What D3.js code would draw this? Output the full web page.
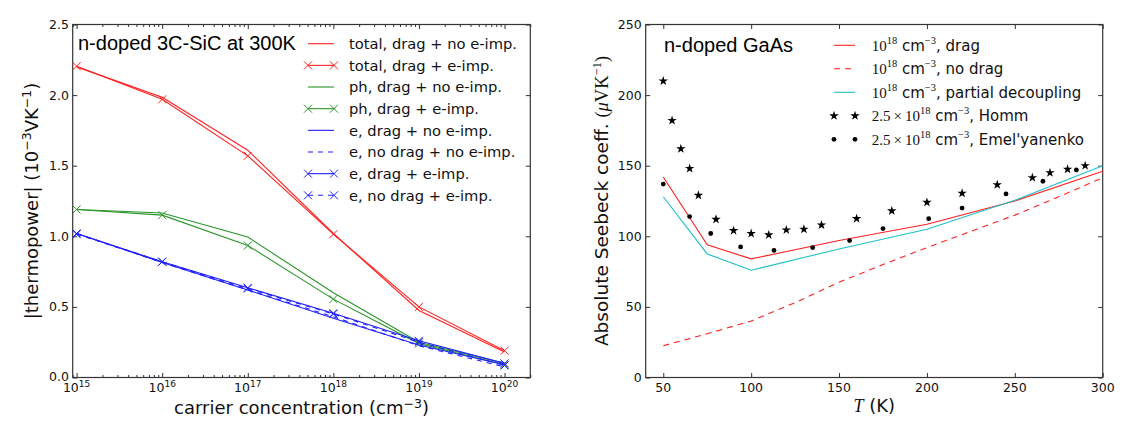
<!DOCTYPE html>
<html><head><meta charset="utf-8">
<script src="https://cdn.jsdelivr.net/npm/d3@7"></script>
<style>body{margin:0;background:#fff} svg{display:block}</style>
</head><body>
<svg id="c" width="1131" height="425"></svg>
<script>
// ---------- data: left panel (n-doped 3C-SiC at 300K) ----------
const carrierConc = [1e15, 1e16, 1e17, 1e18, 1e19, 1e20];
const totalDragNoImp = [2.20, 1.985, 1.61, 1.02, 0.475, 0.18];
const totalDragImp = [2.205, 1.97, 1.57, 1.015, 0.50, 0.19];
const phDragNoImp = [1.19, 1.165, 0.995, 0.60, 0.25, 0.10];
const phDragImp = [1.19, 1.15, 0.935, 0.555, 0.24, 0.09];
const eDragNoImp = [1.02, 0.815, 0.62, 0.42, 0.23, 0.09];
const eNoDragNoImp = [1.02, 0.815, 0.62, 0.43, 0.225, 0.075];
const eDragImp = [1.02, 0.82, 0.635, 0.455, 0.26, 0.10];
const eNoDragImp = [1.015, 0.82, 0.63, 0.45, 0.25, 0.085];
const leftLegendLabels = ["total, drag + no e-imp.", "total, drag + e-imp.", "ph, drag + no e-imp.", "ph, drag + e-imp.",
  "e, drag + no e-imp.", "e, no drag + no e-imp.", "e, drag + e-imp.", "e, no drag + e-imp."];
const leftYTicks = [0, 0.5, 1.0, 1.5, 2.0, 2.5];
const leftXTickExps = [15, 16, 17, 18, 19, 20];

// ---------- data: right panel (n-doped GaAs) ----------
const tempModel = [50, 75, 100, 150, 200, 250, 300];
const seebeckDrag = [142, 94, 84, 97, 108.5, 125, 146];
const seebeckPartial = [128, 87.5, 76, 91, 105, 125.5, 150];
const tempNoDrag = [50, 75, 100, 125, 150, 175, 200, 225, 250, 275, 300];
const seebeckNoDrag = [22.5, 31, 40, 53, 67.5, 80, 92, 103.5, 115, 128, 141.5];
const tempHomm = [50, 55, 60, 65, 70, 80, 90, 100, 110, 120, 130, 140, 160, 180, 200, 220, 240, 260, 270, 280, 290];
const seebeckHomm = [210, 182, 162, 148, 129, 112, 104, 102, 101, 104.5, 105, 108, 112.5, 118, 124, 130.5, 136.5, 141.5, 145, 147.5, 150];
const tempEmel = [50, 65, 77, 94, 113, 135, 156, 175, 201, 220, 245, 266, 285];
const seebeckEmel = [137, 114, 102, 92.5, 90, 92, 97, 105.5, 112.5, 120, 130, 139, 147];
const rightXTicks = [50, 100, 150, 200, 250, 300];
const rightYTicks = [0, 50, 100, 150, 200, 250];

// ---------- drawing ----------
const svg = d3.select("#c");
svg.append("rect").attr("width", 1131).attr("height", 425).attr("fill", "#fff");
const SANS = "'DejaVu Sans', sans-serif";
const SERIF = "'Liberation Serif', 'DejaVu Serif', serif";
const TITLE = "'Liberation Sans', Arial, sans-serif";
const MAJ = 4.5, MIN = 2.5, AX = "#333", TXT = "#111";
const RED = "#ff2020", GREEN = "#2a962a", BLUE = "#1f1fff", CYAN = "#20c0c8";

function drawFrame(x, y, xMajor, yMajor, xMinor) {
  const [x0, x1] = x.range(), [y0, y1] = y.range();
  const g = svg.append("g");
  const clean = s => { s.select(".domain").remove(); s.selectAll(".tick line").attr("stroke", AX); };
  g.append("g").attr("transform", `translate(0,${y0})`).call(d3.axisBottom(x).tickValues(xMajor).tickSize(-MAJ).tickSizeOuter(0).tickFormat("")).call(clean);
  g.append("g").attr("transform", `translate(0,${y1})`).call(d3.axisTop(x).tickValues(xMajor).tickSize(-MAJ).tickSizeOuter(0).tickFormat("")).call(clean);
  g.append("g").attr("transform", `translate(${x0},0)`).call(d3.axisLeft(y).tickValues(yMajor).tickSize(-MAJ).tickSizeOuter(0).tickFormat("")).call(clean);
  g.append("g").attr("transform", `translate(${x1},0)`).call(d3.axisRight(y).tickValues(yMajor).tickSize(-MAJ).tickSizeOuter(0).tickFormat("")).call(clean);
  if (xMinor) {
    g.append("g").attr("transform", `translate(0,${y0})`).call(d3.axisBottom(x).tickValues(xMinor).tickSize(-MIN).tickSizeOuter(0).tickFormat("")).call(clean);
    g.append("g").attr("transform", `translate(0,${y1})`).call(d3.axisTop(x).tickValues(xMinor).tickSize(-MIN).tickSizeOuter(0).tickFormat("")).call(clean);
  }
  g.append("rect").attr("x", x0).attr("y", y1).attr("width", x1 - x0).attr("height", y0 - y1)
    .attr("fill", "none").attr("stroke", AX).attr("stroke-width", 1.2);
  return g;
}

function addText(parts, attrs) {
  const t = svg.append("text");
  Object.entries(attrs).forEach(([k, v]) => t.attr(k, v));
  parts.forEach(p => {
    const s = t.append("tspan").text(p.t);
    if (p.f) s.attr("font-family", p.f);
    if (p.sup) s.attr("font-size", p.sup).attr("baseline-shift", p.shift || "super");
    if (p.it) s.attr("font-style", "italic");
  });
  return t;
}

function xMarker(g, cx, cy, color) {
  g.append("path").attr("d", `M${cx - 4},${cy - 4}L${cx + 4},${cy + 4}M${cx - 4},${cy + 4}L${cx + 4},${cy - 4}`)
    .attr("stroke", color).attr("stroke-width", 1).attr("fill", "none");
}

// ===== Left panel =====
const xL = d3.scaleLog().domain([9e14, 2e20]).range([72.7, 530.3]);
const yL = d3.scaleLinear().domain([0, 2.5]).range([377.5, 24.5]);
const minorL = [];
for (let e = 14; e <= 20; e++) for (let m = 2; m <= 9; m++) { const v = m * Math.pow(10, e); if (v >= 9e14 && v <= 2e20) minorL.push(v); }
drawFrame(xL, yL, leftXTickExps.map(e => Math.pow(10, e)), leftYTicks, minorL);

leftYTicks.forEach(v => svg.append("text").attr("x", 69).attr("y", yL(v) + (v === 0 ? 3 : 4.5))
  .attr("text-anchor", "end").attr("font-family", SANS).attr("font-size", 12.5).attr("fill", TXT).text(d3.format(".1f")(v)));
leftXTickExps.forEach(e => addText([{ t: "10" }, { t: String(e), sup: 9, shift: "5" }],
  { x: xL(Math.pow(10, e)), y: 392, "text-anchor": "middle", "font-family": SANS, "font-size": 12.5, fill: TXT }));

const leftSeries = [
  { v: totalDragNoImp, c: RED, m: false, d: null },
  { v: totalDragImp, c: RED, m: true, d: null },
  { v: phDragNoImp, c: GREEN, m: false, d: null },
  { v: phDragImp, c: GREEN, m: true, d: null },
  { v: eDragNoImp, c: BLUE, m: false, d: null },
  { v: eNoDragNoImp, c: BLUE, m: false, d: "5,5" },
  { v: eDragImp, c: BLUE, m: true, d: null },
  { v: eNoDragImp, c: BLUE, m: true, d: "5,5" },
];
const lineL = d3.line().x(d => xL(d[0])).y(d => yL(d[1]));
const gL = svg.append("g");
leftSeries.forEach(s => {
  const pts = d3.zip(carrierConc, s.v);
  gL.append("path").attr("d", lineL(pts)).attr("fill", "none").attr("stroke", s.c).attr("stroke-width", 1.1)
    .attr("stroke-dasharray", s.d);
  if (s.m) pts.forEach(p => xMarker(gL, xL(p[0]), yL(p[1]), s.c));
});

addText([{ t: "n-doped 3C-SiC at 300K" }], { x: 78, y: 50, "font-family": TITLE, "font-size": 20, fill: "#000" });
leftSeries.forEach((s, i) => {
  const ry = 43.7 + i * 21.66;
  gL.append("line").attr("x1", 308).attr("x2", 334).attr("y1", ry).attr("y2", ry).attr("stroke", s.c)
    .attr("stroke-width", 1.1).attr("stroke-dasharray", s.d);
  if (s.m) { xMarker(gL, 308, ry, s.c); xMarker(gL, 334, ry, s.c); }
  addText([{ t: leftLegendLabels[i] }], { x: 349, y: ry + 5.2, "font-family": SANS, "font-size": 14.7, fill: TXT });
});

addText([{ t: "carrier concentration (cm" }, { t: "\u22123", sup: 12.5, shift: "6" }, { t: ")" }],
  { x: (72.7 + 530.3) / 2, y: 413.5, "text-anchor": "middle", "font-family": SANS, "font-size": 18, fill: TXT });
addText([{ t: "|thermopower| (10" }, { t: "\u22123", sup: 12.5, shift: "7" }, { t: "VK" }, { t: "\u22121", sup: 12.5, shift: "7" }, { t: ")" }],
  { x: 0, y: 0, transform: `translate(38,201) rotate(-90)`, "text-anchor": "middle", "font-family": SANS, "font-size": 18, fill: TXT });

// ===== Right panel =====
const xR = d3.scaleLinear().domain([40, 300]).range([645.7, 1102.7]);
const yR = d3.scaleLinear().domain([0, 250]).range([377.5, 24.5]);
drawFrame(xR, yR, rightXTicks, rightYTicks, null);
rightYTicks.forEach(v => svg.append("text").attr("x", 641.7).attr("y", yR(v) + 4.5).attr("text-anchor", "end")
  .attr("font-family", SANS).attr("font-size", 12.5).attr("fill", TXT).text(v));
rightXTicks.forEach(v => svg.append("text").attr("x", xR(v)).attr("y", 392).attr("text-anchor", "middle")
  .attr("font-family", SANS).attr("font-size", 12.5).attr("fill", TXT).text(v));

const lineR = d3.line().x(d => xR(d[0])).y(d => yR(d[1]));
const gR = svg.append("g");
gR.append("path").attr("d", lineR(d3.zip(tempModel, seebeckDrag))).attr("fill", "none").attr("stroke", RED).attr("stroke-width", 1.1);
gR.append("path").attr("d", lineR(d3.zip(tempNoDrag, seebeckNoDrag))).attr("fill", "none").attr("stroke", RED).attr("stroke-width", 1.1).attr("stroke-dasharray", "6,5");
gR.append("path").attr("d", lineR(d3.zip(tempModel, seebeckPartial))).attr("fill", "none").attr("stroke", CYAN).attr("stroke-width", 1.1);
const star = d3.symbol(d3.symbolStar, 28);
d3.zip(tempHomm, seebeckHomm).forEach(p => gR.append("path").attr("d", star()).attr("transform", `translate(${xR(p[0])},${yR(p[1])})`).attr("fill", "#000"));
d3.zip(tempEmel, seebeckEmel).forEach(p => gR.append("circle").attr("cx", xR(p[0])).attr("cy", yR(p[1])).attr("r", 2.4).attr("fill", "#000"));

addText([{ t: "n-doped GaAs" }], { x: 664, y: 52, "font-family": TITLE, "font-size": 20, fill: "#000" });
const rightLegend = [
  { kind: "line", c: RED, d: null, pre: "10", tail: ", drag" },
  { kind: "line", c: RED, d: "6,5", pre: "10", tail: ", no drag" },
  { kind: "line", c: CYAN, d: null, pre: "10", tail: ", partial decoupling" },
  { kind: "star", pre: "2.5\u2009\u00d7\u200910", tail: ", Homm" },
  { kind: "dot", pre: "2.5\u2009\u00d7\u200910", tail: ", Emel'yanenko" },
];
rightLegend.forEach((e, i) => {
  const ry = 45.3 + i * 23.5;
  if (e.kind === "line") gR.append("line").attr("x1", 834).attr("x2", 855).attr("y1", ry).attr("y2", ry).attr("stroke", e.c).attr("stroke-width", 1.1).attr("stroke-dasharray", e.d);
  else [834, 855].forEach(cx => {
    if (e.kind === "star") gR.append("path").attr("d", star()).attr("transform", `translate(${cx},${ry})`).attr("fill", "#000");
    else gR.append("circle").attr("cx", cx).attr("cy", ry).attr("r", 2.4).attr("fill", "#000");
  });
  addText([{ t: e.pre, f: SERIF }, { t: "18", f: SERIF, sup: 10.5, shift: "7" }, { t: " cm" }, { t: "\u22123", f: SERIF, sup: 10.5, shift: "7" }, { t: e.tail }],
    { x: 871.7, y: ry + 5.2, "font-family": SANS, "font-size": 15, fill: TXT });
});

addText([{ t: "T", f: SERIF, it: true }, { t: " (K)" }],
  { x: (645.7 + 1102.7) / 2, y: 412, "text-anchor": "middle", "font-family": SANS, "font-size": 18, fill: TXT });
addText([{ t: "Absolute Seebeck coeff. " }, { t: "(", f: SERIF }, { t: "\u03bc", f: SERIF, it: true }, { t: "VK", f: SERIF },
  { t: "\u22121", f: SERIF, sup: 12.5, shift: "7" }, { t: ")", f: SERIF }],
  { x: 0, y: 0, transform: `translate(608,201) rotate(-90)`, "text-anchor": "middle", "font-family": SANS, "font-size": 18.5, fill: TXT });
</script>
</body></html>
